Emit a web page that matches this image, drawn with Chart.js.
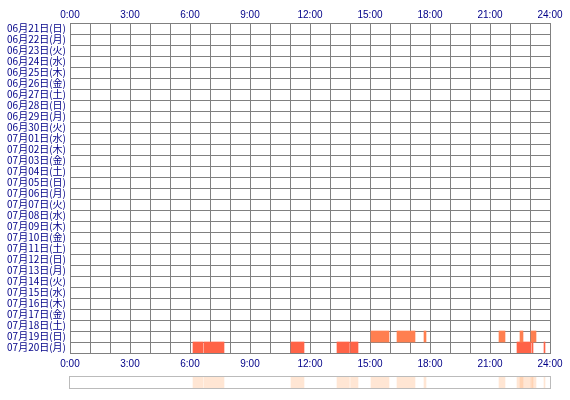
<!DOCTYPE html>
<html>
<head>
<meta charset="utf-8">
<script src="https://cdn.jsdelivr.net/npm/chart.js@4"></script>
<style>
  body { margin: 0; background: #fff; }
  #wrap { position: relative; width: 570px; height: 400px; }
  #chart { position: absolute; left: 0; top: 0; }
  #strip { position: absolute; left: 70px; top: 377px; outline: 1px solid #bbbbbb; }
</style>
</head>
<body>
<div id="wrap">
  <canvas id="chart" width="570" height="372"></canvas>
  <canvas id="strip" width="480" height="11"></canvas>
</div>
<script>
// rows (dates), top to bottom
const days = [
  '06月21日(日)', '06月22日(月)', '06月23日(火)', '06月24日(水)', '06月25日(木)',
  '06月26日(金)', '06月27日(土)', '06月28日(日)', '06月29日(月)', '06月30日(火)',
  '07月01日(水)', '07月02日(木)', '07月03日(金)', '07月04日(土)', '07月05日(日)',
  '07月06日(月)', '07月07日(火)', '07月08日(水)', '07月09日(木)', '07月10日(金)',
  '07月11日(土)', '07月12日(日)', '07月13日(月)', '07月14日(火)', '07月15日(水)',
  '07月16日(木)', '07月17日(金)', '07月18日(土)', '07月19日(日)', '07月20日(月)'
];

// activity periods, in hours from 0:00
const periods0719 = [[15.05, 15.95], [16.35, 17.25], [17.7, 17.8], [21.45, 21.75], [22.5, 22.65], [23.05, 23.3]];
const periods0720 = [[6.15, 6.65], [6.7, 7.7], [11.05, 11.7], [13.35, 13.97], [14.03, 14.4], [22.35, 23.05], [23.1, 23.15], [23.7, 23.75]];

const hourTicks = [0, 3, 6, 9, 12, 15, 18, 21, 24];

const gridColor = '#808080';
const labelColor = '#000088';

function toBars(periods, day) {
  return periods.map(p => ({ x: p, y: day }));
}

function hourLabel(v) {
  return hourTicks.includes(v) ? v + ':00' : '';
}

const hourAxis = (position, height, pad, showGrid) => ({
  type: 'linear',
  position: position,
  min: 0,
  max: 24,
  afterFit: s => { s.height = height; },
  ticks: {
    stepSize: 1,
    autoSkip: false,
    maxRotation: 0,
    padding: pad,
    color: labelColor,
    font: { family: '"Liberation Sans Narrow", "Liberation Sans", sans-serif', size: 10 },
    callback: hourLabel
  },
  grid: { display: showGrid, color: gridColor, drawTicks: false },
  border: { color: gridColor }
});

new Chart(document.getElementById('chart'), {
  type: 'bar',
  data: {
    labels: days,
    datasets: [
      {
        data: toBars(periods0719, '07月19日(日)'),
        backgroundColor: '#ff7f50',
        xAxisID: 'x'
      },
      {
        data: toBars(periods0720, '07月20日(月)'),
        backgroundColor: '#ff6347',
        xAxisID: 'x'
      }
    ]
  },
  options: {
    indexAxis: 'y',
    responsive: false,
    animation: false,
    grouped: false,
    categoryPercentage: 1,
    barPercentage: 1,
    borderSkipped: false,
    layout: { padding: { left: 0, right: 20, top: 0, bottom: 0 } },
    plugins: { legend: { display: false }, tooltip: { enabled: false } },
    scales: {
      x: hourAxis('top', 23, 2, true),
      x2: hourAxis('bottom', 19, 5, false),
      y: {
        type: 'category',
        offset: true,
        afterFit: s => { s.width = 70; },
        grid: { offset: true, color: gridColor, drawTicks: false },
        border: { color: gridColor },
        ticks: {
          autoSkip: false,
          padding: 4,
          color: labelColor,
          font: { family: '"Noto Sans CJK JP", sans-serif', size: 10 }
        }
      }
    }
  }
});

// summary strip: every period overlaid
new Chart(document.getElementById('strip'), {
  type: 'bar',
  data: {
    labels: ['all'],
    datasets: [
      {
        data: toBars(periods0719, 'all').concat(toBars(periods0720, 'all')),
        backgroundColor: 'rgba(255, 140, 60, 0.22)'
      }
    ]
  },
  options: {
    indexAxis: 'y',
    responsive: false,
    animation: false,
    categoryPercentage: 1,
    barPercentage: 1,
    borderSkipped: false,
    layout: { padding: 0 },
    plugins: { legend: { display: false }, tooltip: { enabled: false } },
    scales: {
      x: { type: 'linear', min: 0, max: 24, display: false },
      y: { type: 'category', display: false, offset: true }
    }
  }
});
</script>
</body>
</html>
